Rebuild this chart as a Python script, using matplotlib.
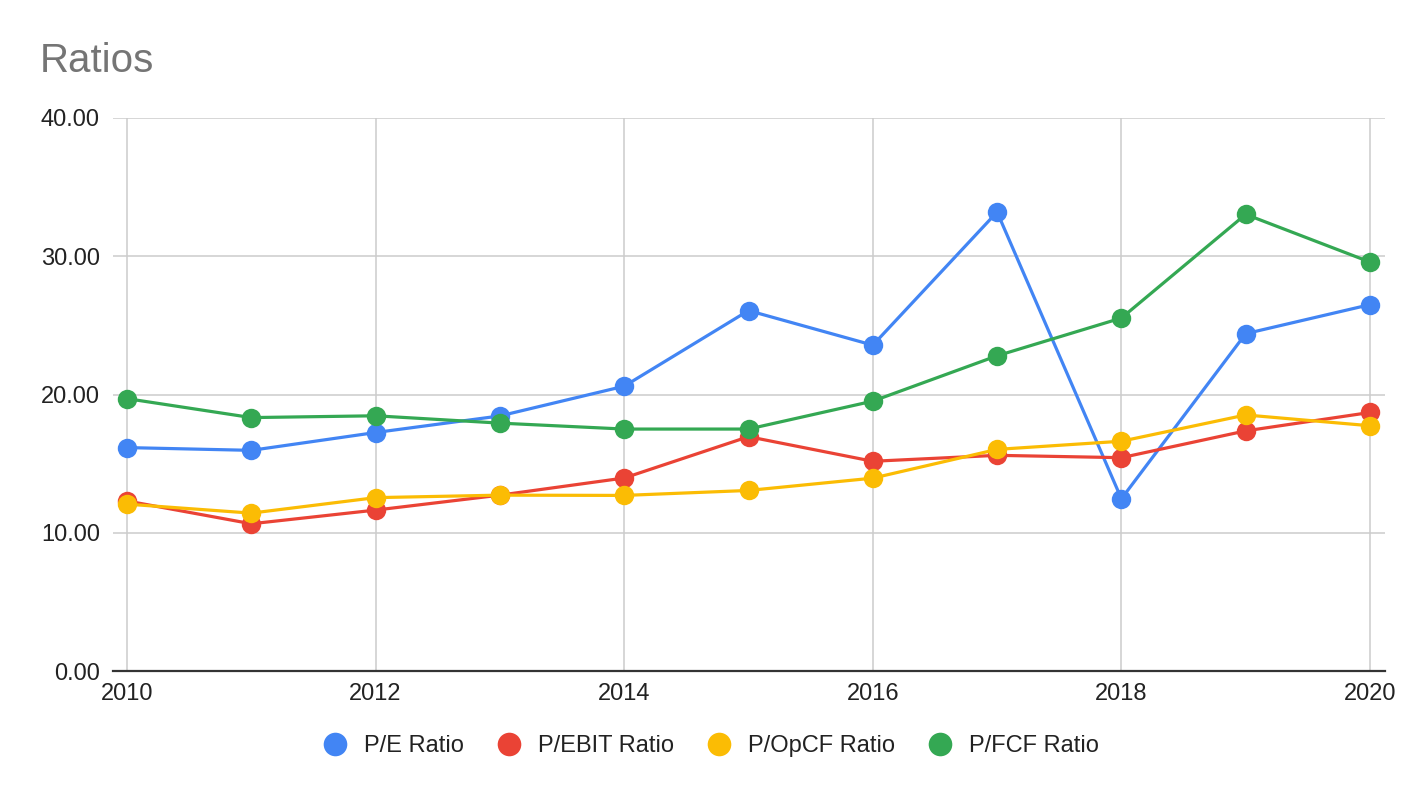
import matplotlib
matplotlib.use("Agg")
import matplotlib.pyplot as plt
from matplotlib.lines import Line2D

years = [2010, 2011, 2012, 2013, 2014, 2015, 2016, 2017, 2018, 2019, 2020]
pe_ratio = [16.16, 15.96, 17.25, 18.45, 20.6, 26.07, 23.57, 33.2, 12.46, 24.4, 26.5]
pebit_ratio = [12.3, 10.65, 11.64, 12.72, 13.96, 16.95, 15.17, 15.6, 15.43, 17.37, 18.7]
popcf_ratio = [12.07, 11.42, 12.54, 12.72, 12.7, 13.06, 13.95, 16.03, 16.62, 18.52, 17.74]
pfcf_ratio = [19.7, 18.33, 18.46, 17.93, 17.5, 17.5, 19.52, 22.8, 25.53, 33.03, 29.58]

series_names = ["P/E Ratio", "P/EBIT Ratio", "P/OpCF Ratio", "P/FCF Ratio"]
series_values = [pe_ratio, pebit_ratio, popcf_ratio, pfcf_ratio]
colors = ["#4285F4", "#EA4335", "#FBBC04", "#34A853"]
y_ticks = [0, 10, 20, 30, 40]
x_ticks = [2010, 2012, 2014, 2016, 2018, 2020]

plt.rcParams['font.family'] = ['Liberation Sans', 'DejaVu Sans']

W, H = 1424, 798
fig = plt.figure(figsize=(W / 100, H / 100), dpi=100)
left, right, top, bottom = 113, 1385, 118, 671
ax = fig.add_axes([left / W, 1 - bottom / H, (right - left) / W, (bottom - top) / H])

for name, vals, c in zip(series_names, series_values, colors):
    ax.plot(years, vals, color=c, lw=2.3, marker='o', markersize=14,
            markeredgewidth=0, label=name, solid_capstyle='round', zorder=3)

px_per_year = (1370 - 127) / 10
ax.set_xlim(2010 - 14 / px_per_year, 2020 + 15 / px_per_year)
ax.set_ylim(0, 40)
ax.set_yticks(y_ticks)
ax.set_yticklabels([f"{v:.2f}" for v in y_ticks])
ax.set_xticks(x_ticks)
ax.set_xticklabels([str(x) for x in x_ticks])

ax.grid(True, color="#cccccc", lw=1.1, zorder=0)
for s in ['top', 'right', 'left']:
    ax.spines[s].set_visible(False)
ax.spines['bottom'].set_color('#333333')
ax.spines['bottom'].set_linewidth(1.6)
ax.spines['bottom'].set_zorder(4)
ax.tick_params(axis='both', length=0, labelsize=17, colors='#222222')
ax.tick_params(axis='y', pad=9.4)
ax.tick_params(axis='x', pad=9)
ax.set_axisbelow(True)

fig.text(40 / W, 1 - 72 / H, "Ratios", fontsize=29, color="#757575", ha='left', va='baseline')

handles = [Line2D([], [], ls='none', marker='o', markersize=17, markeredgewidth=0, color=c)
           for c in colors]
fig.legend(handles, series_names, loc='center', bbox_to_anchor=(711 / W, 1 - 746 / H),
           ncol=4, frameon=False, fontsize=17, handletextpad=0.71, columnspacing=1.43,
           handlelength=1.0, labelcolor='#222222')

fig.savefig("out.png", dpi=100, facecolor='white')
